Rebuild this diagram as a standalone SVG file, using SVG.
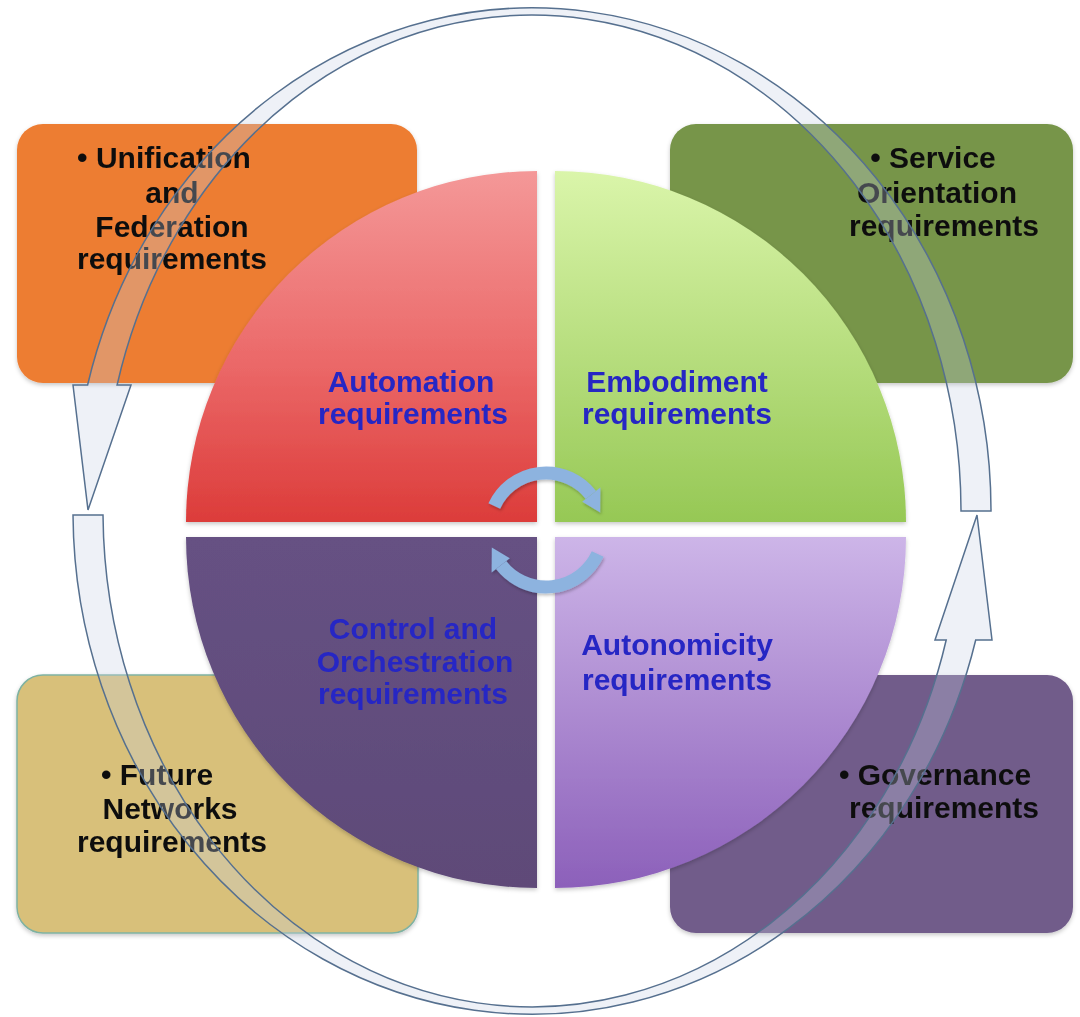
<svg xmlns="http://www.w3.org/2000/svg" width="1080" height="1017" viewBox="0 0 1080 1017">
  <style>
    .box-label { font-family: "Liberation Sans", Arial, sans-serif; font-weight: bold; font-size: 30px; fill: #111111; text-anchor: middle; }
    .core-label { font-family: "Liberation Sans", Arial, sans-serif; font-weight: bold; font-size: 30px; fill: #2626C4; text-anchor: middle; }
    .ring { fill: #C8D2E6; fill-opacity: 0.3; stroke: #56708F; stroke-width: 1.5; stroke-linejoin: miter; }
    .cycle { fill: none; stroke: #8DB3DF; stroke-width: 13; }
    .cycle-head { fill: #8DB3DF; }
  </style>
  <defs>
    <filter id="soft" x="-10%" y="-10%" width="120%" height="120%">
      <feDropShadow dx="0" dy="2" stdDeviation="2" flood-color="#000000" flood-opacity="0.22"/>
    </filter>
    <filter id="arrowShadow" x="-20%" y="-20%" width="140%" height="140%">
      <feDropShadow dx="1" dy="2" stdDeviation="1.5" flood-color="#000000" flood-opacity="0.25"/>
    </filter>
    <linearGradient id="gRed" x1="0" y1="0" x2="0" y2="1">
      <stop offset="0" stop-color="#F49898"/>
      <stop offset="0.55" stop-color="#EB6868"/>
      <stop offset="1" stop-color="#DC3C3A"/>
    </linearGradient>
    <linearGradient id="gGreen" x1="0" y1="0" x2="0" y2="1">
      <stop offset="0" stop-color="#DAF5AA"/>
      <stop offset="1" stop-color="#96C855"/>
    </linearGradient>
    <linearGradient id="gDark" x1="0" y1="0" x2="0" y2="1">
      <stop offset="0" stop-color="#665183"/>
      <stop offset="1" stop-color="#5E4A78"/>
    </linearGradient>
    <linearGradient id="gLilac" x1="0" y1="0" x2="0" y2="1">
      <stop offset="0" stop-color="#CDB5E8"/>
      <stop offset="1" stop-color="#8C60BA"/>
    </linearGradient>
  </defs>

  <rect width="1080" height="1017" fill="#FFFFFF"/>

  <!-- corner requirement boxes -->
  <g id="box-unification" filter="url(#soft)">
    <rect x="17" y="124" width="400" height="259" rx="26" fill="#ED7D33"/>
    <text class="box-label" x="164" y="168">• Unification</text>
    <text class="box-label" x="172" y="203">and</text>
    <text class="box-label" x="172" y="237">Federation</text>
    <text class="box-label" x="172" y="269">requirements</text>
  </g>
  <g id="box-service" filter="url(#soft)">
    <rect x="670" y="124" width="403" height="259" rx="26" fill="#77954A"/>
    <text class="box-label" x="933" y="168">• Service</text>
    <text class="box-label" x="937" y="203">Orientation</text>
    <text class="box-label" x="944" y="236">requirements</text>
  </g>
  <g id="box-future" filter="url(#soft)">
    <rect x="17" y="675" width="401" height="258" rx="26" fill="#D8C07A" stroke="#7FB2A2" stroke-width="1.5"/>
    <text class="box-label" x="157" y="785">• Future</text>
    <text class="box-label" x="170" y="819">Networks</text>
    <text class="box-label" x="172" y="852">requirements</text>
  </g>
  <g id="box-governance" filter="url(#soft)">
    <rect x="670" y="675" width="403" height="258" rx="26" fill="#715B8A"/>
    <text class="box-label" x="935" y="785">• Governance</text>
    <text class="box-label" x="944" y="818">requirements</text>
  </g>

  <!-- central quartered disc -->
  <g id="core-automation" filter="url(#soft)">
    <path d="M537,522 L186,522 A351,351 0 0 1 537,171 Z" fill="url(#gRed)"/>
    <text class="core-label" x="411" y="392">Automation</text>
    <text class="core-label" x="413" y="424">requirements</text>
  </g>
  <g id="core-embodiment" filter="url(#soft)">
    <path d="M555,522 L555,171 A351,351 0 0 1 906,522 Z" fill="url(#gGreen)"/>
    <text class="core-label" x="677" y="392">Embodiment</text>
    <text class="core-label" x="677" y="424">requirements</text>
  </g>
  <g id="core-control" filter="url(#soft)">
    <path d="M537,537 L537,888 A351,351 0 0 1 186,537 Z" fill="url(#gDark)"/>
    <text class="core-label" x="413" y="639">Control and</text>
    <text class="core-label" x="415" y="672">Orchestration</text>
    <text class="core-label" x="413" y="704">requirements</text>
  </g>
  <g id="core-autonomicity" filter="url(#soft)">
    <path d="M555,537 L906,537 A351,351 0 0 1 555,888 Z" fill="url(#gLilac)"/>
    <text class="core-label" x="677" y="655">Autonomicity</text>
    <text class="core-label" x="677" y="690">requirements</text>
  </g>

  <!-- connectors: outer ring arrows and inner cycle arrows -->
  <g id="connectors">
    <path class="ring" d="M991,511 A459,503 0 0 0 87.6,385 L73,385 L88,510 L131,385 L117.1,385 A429,496 0 0 1 961,511 Z"/>
    <path class="ring" d="M73,515 A459,503 0 0 0 975.7,640 L992,640 L977,515 L935,640 L946.2,640 A429,496 0 0 1 103,515 Z"/>

    <g filter="url(#arrowShadow)">
      <path class="cycle" d="M494.3,505.9 A57,57 0 0 1 590.9,494.9"/>
      <polygon class="cycle-head" points="582.2,501.7 600.4,487.5 600.2,512.4"/>
      <path class="cycle" d="M597.7,554.1 A57,57 0 0 1 501.1,565.1"/>
      <polygon class="cycle-head" points="509.8,558.3 491.6,572.5 491.8,547.6"/>
    </g>
  </g>
</svg>
